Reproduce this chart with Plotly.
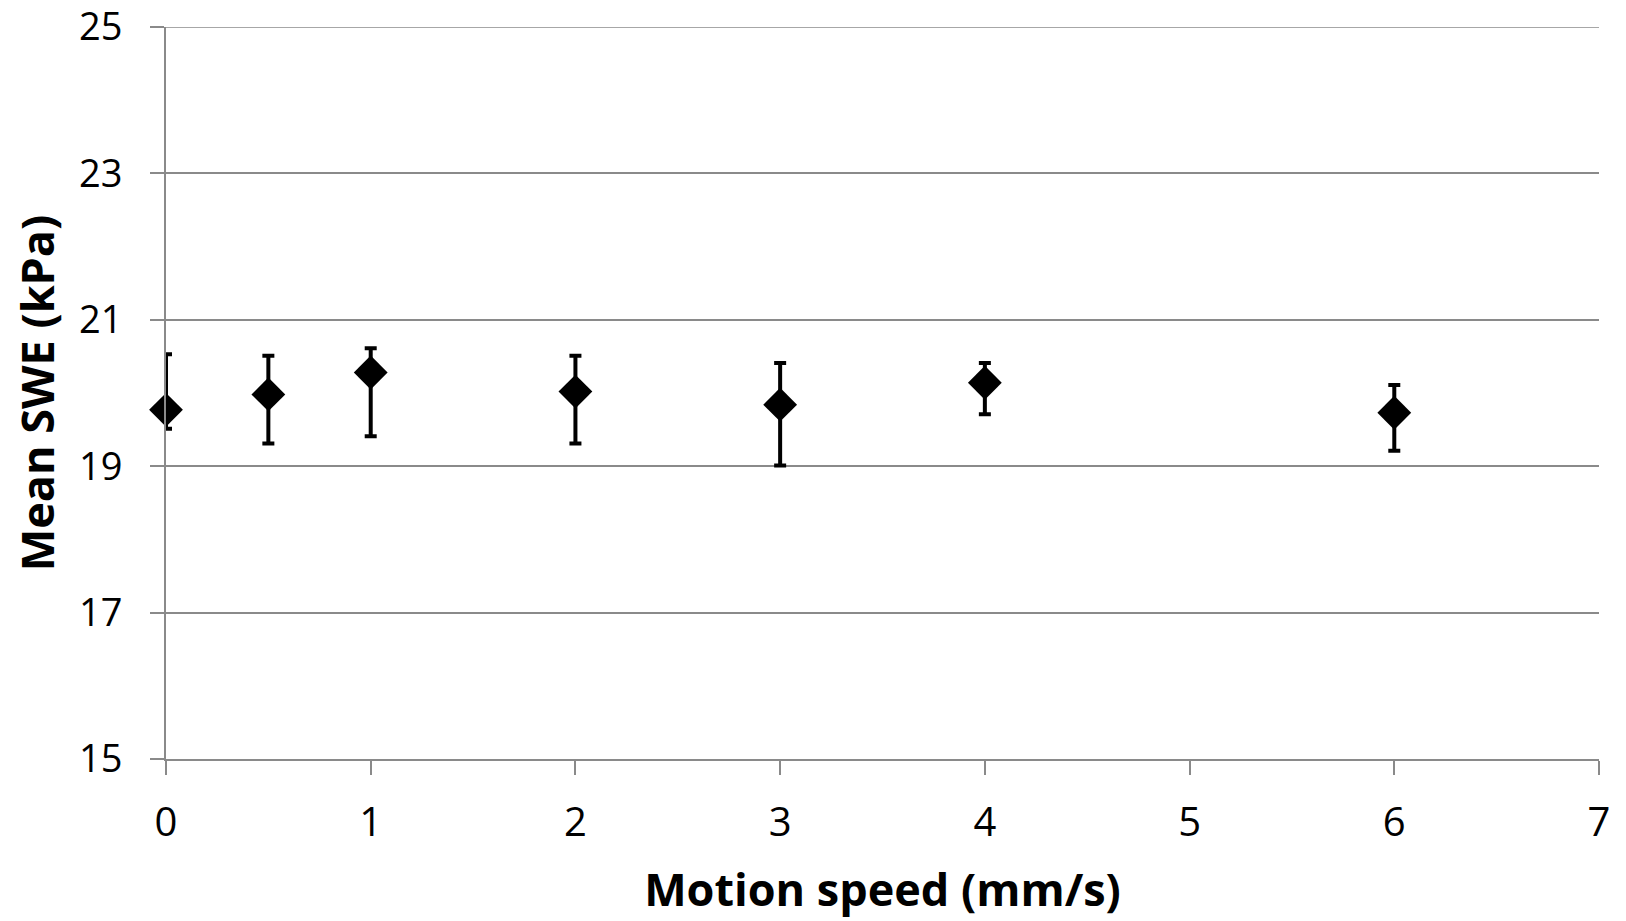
import plotly.graph_objects as go

speed = [0, 0.5, 1, 2, 3, 4, 6]
mean_swe = [19.77, 19.98, 20.28, 20.02, 19.84, 20.14, 19.73]
err_upper = [20.53, 20.51, 20.61, 20.51, 20.41, 20.41, 20.11]
err_lower = [19.51, 19.31, 19.41, 19.31, 19.01, 19.71, 19.21]

plus = [u - m for u, m in zip(err_upper, mean_swe)]
minus = [m - l for m, l in zip(mean_swe, err_lower)]

x_ticks = [0, 1, 2, 3, 4, 5, 6, 7]
y_ticks = [15, 17, 19, 21, 23, 25]

grey = "#8a8a8a"

fig = go.Figure()
fig.add_trace(go.Scatter(
    x=speed, y=mean_swe, mode="markers",
    marker=dict(symbol="diamond", size=26, color="black"),
    error_y=dict(type="data", symmetric=False, array=plus, arrayminus=minus,
                 color="black", thickness=4, width=6),
    showlegend=False,
    cliponaxis=False,
))

# top gridline (plotly omits the gridline at the plot edge)
fig.add_shape(type="line", xref="paper", yref="y", x0=0, x1=1,
              y0=y_ticks[-1], y1=y_ticks[-1],
              line=dict(color=grey, width=1.5), layer="below")

fig.update_layout(
    width=1626, height=921,
    margin=dict(l=166, r=27, t=27, b=162, autoexpand=False),
    paper_bgcolor="white", plot_bgcolor="white",
    font=dict(family="Open Sans", color="black"),
)
fig.update_xaxes(
    range=[0, 7], tickmode="array", tickvals=x_ticks,
    ticktext=[str(v) for v in x_ticks],
    showgrid=False, zeroline=False, automargin=False,
    showline=True, linecolor=grey, linewidth=2,
    ticks="outside", ticklen=14, tickwidth=1.5, tickcolor=grey,
    tickfont=dict(family="Open Sans", size=40, color="black"),
    ticklabelstandoff=13, ticklabeloverflow="allow",
    title=dict(text="<b>Motion speed (mm/s)</b>",
               font=dict(family="Open Sans", size=45, color="black"),
               standoff=27),
)
fig.update_yaxes(
    range=[15, 25], tickmode="array", tickvals=y_ticks,
    ticktext=[str(v) for v in y_ticks],
    showgrid=True, gridcolor=grey, gridwidth=1.5,
    zeroline=False, automargin=False,
    showline=True, linecolor=grey, linewidth=2,
    ticks="outside", ticklen=14, tickwidth=1.5, tickcolor=grey,
    tickfont=dict(family="Open Sans", size=38, color="black"),
    ticklabelstandoff=20, ticklabeloverflow="allow",
    title=dict(text="<b>Mean SWE (kPa)</b>",
               font=dict(family="Open Sans", size=45, color="black"),
               standoff=10),
)

fig.write_html("out.html")
